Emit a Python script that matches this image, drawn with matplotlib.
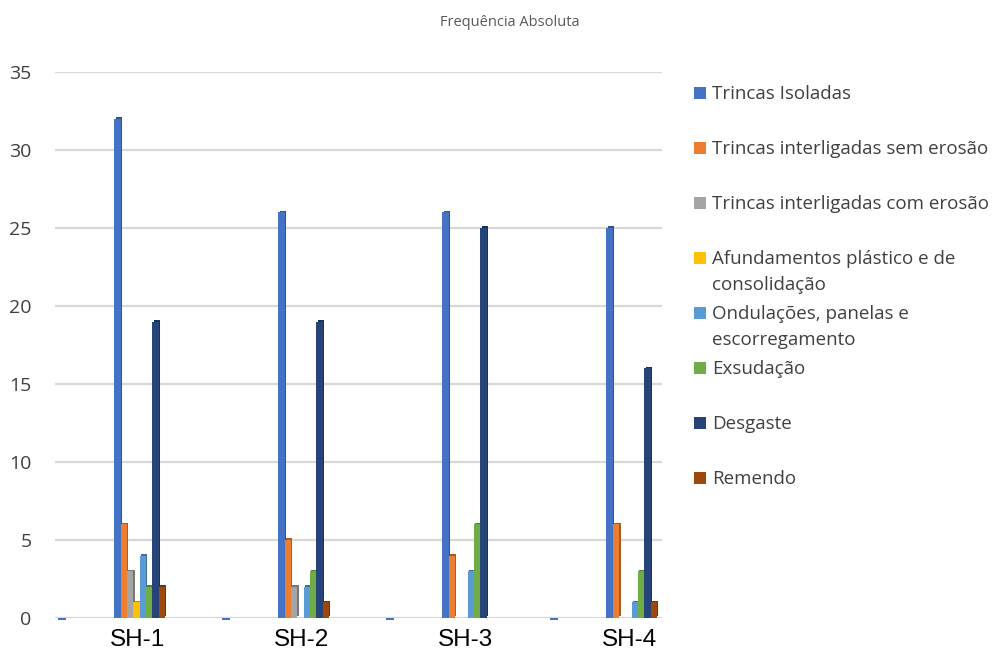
import matplotlib
matplotlib.use("Agg")
import matplotlib.pyplot as plt
from matplotlib.patches import Rectangle
import numpy as np

# Sections surveyed
sections = ["SH-1", "SH-2", "SH-3", "SH-4"]

# Defect types (series) and their colours
defects = [
    "Trincas Isoladas",
    "Trincas interligadas sem erosão",
    "Trincas interligadas com erosão",
    "Afundamentos plástico e de\nconsolidação",
    "Ondulações, panelas e\nescorregamento",
    "Exsudação",
    "Desgaste",
    "Remendo",
]
colors = ["#4472C4", "#ED7D31", "#A5A5A5", "#FFC000",
          "#5B9BD5", "#70AD47", "#264478", "#9E480E"]

# Absolute frequency of each defect per section
trincas_isoladas = [32, 26, 26, 25]
trincas_sem_erosao = [6, 5, 4, 6]
trincas_com_erosao = [3, 2, 0, 0]
afundamentos = [1, 0, 0, 0]
ondulacoes = [4, 2, 3, 1]
exsudacao = [2, 3, 6, 3]
desgaste = [19, 19, 25, 16]
remendo = [2, 1, 0, 1]
# empty category between sections (zero entries)
empty_slot = [0, 0, 0, 0]

series = [trincas_isoladas, trincas_sem_erosao, trincas_com_erosao, afundamentos,
          ondulacoes, exsudacao, desgaste, remendo]

yticks = [0, 5, 10, 15, 20, 25, 30, 35]


def darken(hexcol, f=0.72):
    c = np.array(matplotlib.colors.to_rgb(hexcol))
    return tuple(c * f)


W, H = 996, 652
fig = plt.figure(figsize=(W / 100, H / 100), dpi=100)
ax = fig.add_axes([55 / W, (H - 618) / H, (662 - 55) / W, (618 - 72) / H])

x = np.arange(len(sections))
bw = 0.0385
n = len(series)
offsets = (np.arange(n) - (n - 1) / 2) * bw
dx, dy = 0.009, 0.10

for i, (vals, col) in enumerate(zip(series, colors)):
    xs = x + offsets[i] + 0.01
    vals = np.array(vals, dtype=float)
    # side/depth face
    ax.bar(xs + dx, vals, width=bw, bottom=dy, color=darken(col), zorder=2,
           linewidth=0)
    # front face
    ax.bar(xs, vals, width=bw, color=col, zorder=3, linewidth=0)

# flat markers of the empty categories
ax.bar(x - 0.463, np.array(empty_slot) + 0.14, width=bw * 1.2, bottom=-0.16,
       color="#4472C4", zorder=3, linewidth=0, clip_on=False)

ax.set_xlim(-0.506, 3.195)
ax.set_ylim(0, 35)
ax.set_yticks(yticks)
ax.set_yticklabels([str(v) for v in yticks], fontsize=14, color="#404040",
                   family="Open Sans")
ax.set_xticks(x)
ax.set_xticklabels(sections, fontsize=17.5, family="Liberation Sans", color="black")
ax.tick_params(axis="both", length=0)
ax.tick_params(axis="y", pad=17)
ax.tick_params(axis="x", pad=8)
ax.yaxis.grid(True, color="#D9D9D9", linewidth=1.6, zorder=0)
ax.set_axisbelow(True)
for s in ax.spines.values():
    s.set_visible(False)
ax.set_facecolor("none")

fig.text(510 / W, 1 - 22 / H, "Frequência Absoluta", ha="center", va="center",
         fontsize=10.5, color="#595959", family="Open Sans")

# legend entries placed in a fixed column
legend_y = [93, 148, 203, 258, 313, 368, 423, 478]
line_step = 26
for lab, col, yp in zip(defects, colors, legend_y):
    fig.add_artist(Rectangle((694 / W, 1 - (yp + 6) / H), 12 / W, 12 / H,
                             transform=fig.transFigure, facecolor=col,
                             edgecolor="none"))
    for k, line in enumerate(lab.split("\n")):
        fig.text(712 / W, 1 - (yp + 1 + k * line_step) / H, line, ha="left",
                 va="center", fontsize=13.5, color="#404040", family="Open Sans")

fig.savefig("out.png", dpi=100)
